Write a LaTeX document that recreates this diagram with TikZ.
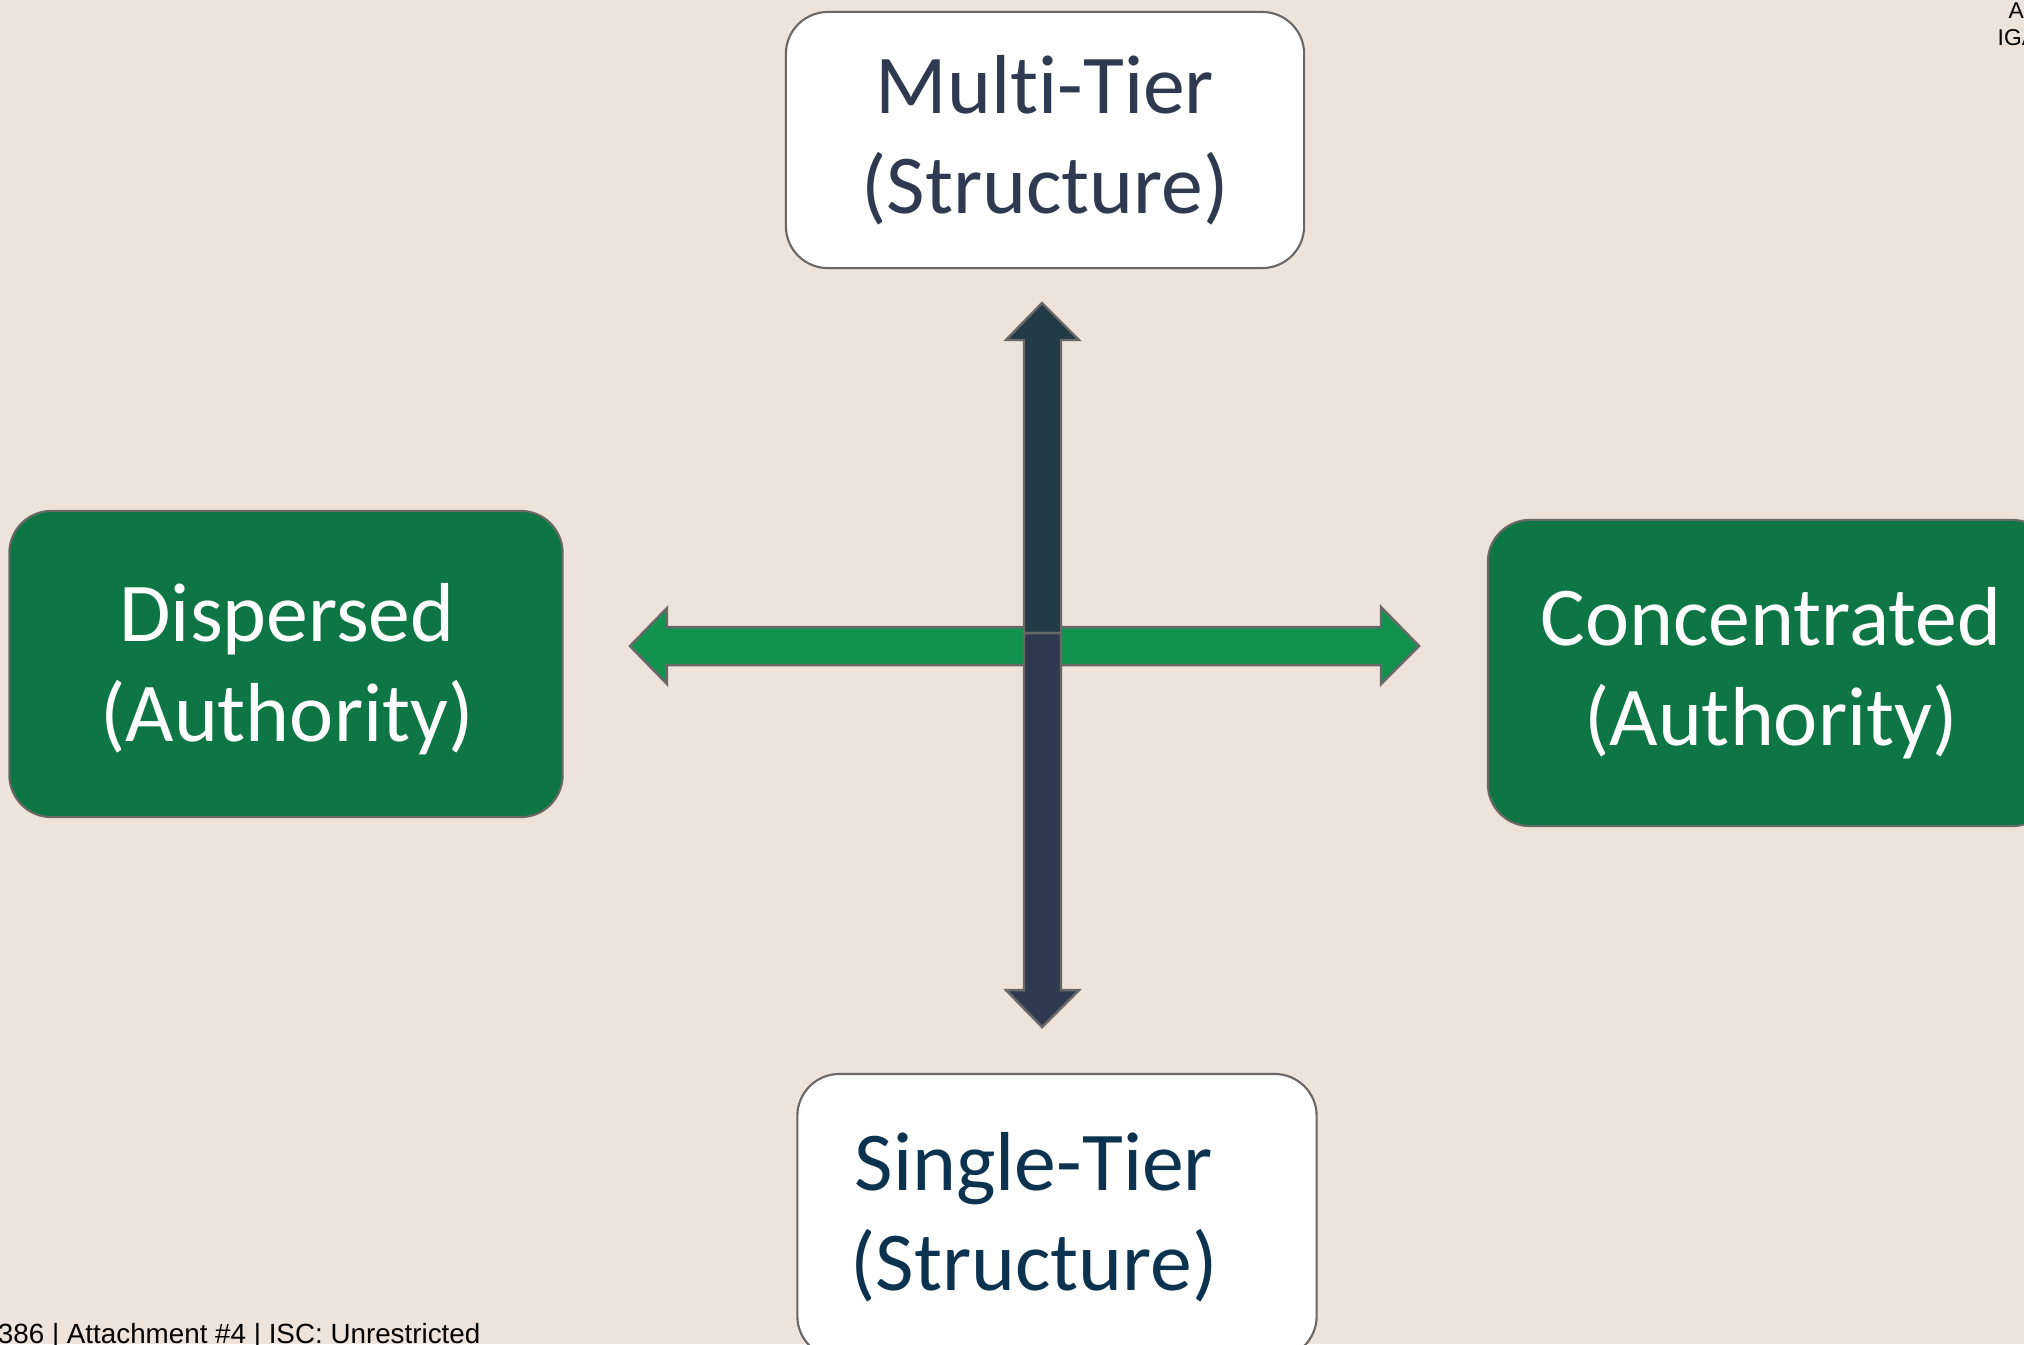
\documentclass[tikz,border=0pt]{standalone}
\usepackage{fontspec}
\setmainfont{Carlito}[Ligatures=NoCommon]
\newfontfamily\footfont{Liberation Sans}

\definecolor{slidebg}{HTML}{EDE3DB}
\definecolor{edgegrey}{HTML}{686868}
\definecolor{boxgreen}{HTML}{0E7645}
\definecolor{arrowgreen}{HTML}{12924F}
\definecolor{tierteal}{HTML}{233A47}
\definecolor{tiernavy}{HTML}{2F3A50}
\definecolor{singleblue}{HTML}{0B3350}

\tikzset{
  quadbox/.style={draw=edgegrey, line width=0.6pt, rounded corners=0.42cm,
    align=center, font=\fontsize{23.8}{28.5}\selectfont},
  tierbox/.style={quadbox, fill=white, text=tiernavy},
  authbox/.style={quadbox, fill=boxgreen, text=white},
  axisarrow/.style={draw=edgegrey, line width=0.7pt, line join=miter},
  footnote/.style={font=\footfont\fontsize{6.5}{7.7}\selectfont, text=black, inner sep=0pt}
}

\begin{document}
\begin{tikzpicture}[x=0.01cm,y=-0.01cm]
\fill[slidebg] (0,0) rectangle (2024,1344);
\useasboundingbox (0,0) rectangle (2024,1344);
\clip (0,0) rectangle (2024,1344);

% Authority: horizontal axis (behind)
\filldraw[axisarrow, fill=arrowgreen]
  (1030,627) -- (667,627) -- (667,608) -- (630,646) -- (667,684) -- (667,665) -- (1030,665) -- cycle;
\filldraw[axisarrow, fill=arrowgreen]
  (1055,627) -- (1381,627) -- (1381,607) -- (1419,646) -- (1381,684) -- (1381,665) -- (1055,665) -- cycle;

% Structure: vertical axis, two halves
\filldraw[axisarrow, fill=tierteal]
  (1024,633) -- (1024,340) -- (1006,340) -- (1042,303) -- (1079,340) -- (1061,340) -- (1061,633) -- cycle;
\filldraw[axisarrow, fill=tiernavy]
  (1024,633) -- (1061,633) -- (1061,990) -- (1079,990) -- (1042,1027) -- (1006,990) -- (1024,990) -- cycle;

% the four ends
\node[tierbox, minimum width=5.18cm, minimum height=2.56cm] (multi) at (1045,140)
  {Multi-Tier\\(Structure)};
\node[tierbox, minimum width=5.19cm, minimum height=2.84cm] (single) at (1057,1216) {};
\node[font=\fontsize{23.8}{28.5}\selectfont, text=singleblue, align=center] (single text) at (1034,1217)
  {Single-Tier\\(Structure)};
\node[authbox, minimum width=5.53cm, minimum height=3.06cm] (dispersed) at (286,664) {};
\node[font=\fontsize{23.8}{28.5}\selectfont, text=white, align=center] (dispersed text) at (287,669)
  {Dispersed\\(Authority)};
\node[authbox, minimum width=5.66cm, minimum height=3.06cm] (concentrated) at (1771,673)
  {Concentrated\\(Authority)};

% slide footer and corner marks
\node[footnote, font=\footfont\fontsize{7.9}{9}\selectfont, anchor=base east] (footer) at (481,1343)
  {386 | Attachment \#4 | ISC: Unrestricted};
\node[footnote, anchor=base west] (corner a) at (2008,18) {A};
\node[footnote, anchor=base west] (corner iga) at (1997,45) {IGA};
\end{tikzpicture}
\end{document}
